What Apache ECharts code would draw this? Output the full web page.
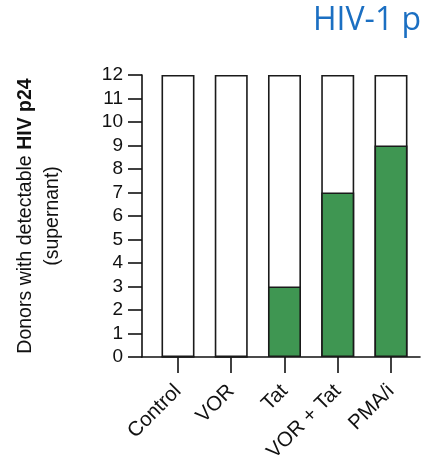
<!DOCTYPE html>
<html>
<head>
<meta charset="utf-8">
<script src="https://cdn.jsdelivr.net/npm/echarts@6/dist/echarts.min.js"></script>
<style>html,body{margin:0;padding:0;background:#fff}#c{width:423px;height:460px}</style>
</head>
<body>
<div id="c"></div>
<script>
var categories = ['Control', 'VOR', 'Tat', 'VOR + Tat', 'PMA/i'];
var totalDonors = [12, 12, 12, 12, 12];
var detectable = [0, 0, 3, 7, 9];
var yTicks = [0,1,2,3,4,5,6,7,8,9,10,11,12];

var positions = categories.map(function (c, i) { return i; });
var totalData = totalDonors.map(function (v, i) { return [i, v]; });
var detData = detectable.map(function (v, i) { return [i, v]; });

var FONT = 'Liberation Sans, Arial, sans-serif';
var chart = echarts.init(document.getElementById('c'), null, {renderer: 'canvas'});
chart.setOption({
  animation: false,
  backgroundColor: '#fff',
  title: {
    text: 'HIV-1 p',
    left: 308, top: 0,
    textStyle: {fontFamily: 'Open Sans', fontSize: 32, fontWeight: 'normal', color: '#1b6fc2'}
  },
  grid: {left: 142, right: 3, top: 75, bottom: 103, containLabel: false, outerBoundsMode: 'none'},
  xAxis: {
    type: 'value',
    min: -0.676, max: 4.545,
    axisLine: {show: true, onZero: false, lineStyle: {color: '#111', width: 1.6}},
    axisTick: {show: true, length: 16, customValues: positions, lineStyle: {color: '#111', width: 1.6}},
    axisLabel: {
      customValues: positions,
      formatter: function (v) { return categories[Math.round(v)]; },
      rotate: 45, margin: 31, fontSize: 20.5, fontFamily: FONT, color: '#111'
    },
    splitLine: {show: false}
  },
  yAxis: {
    type: 'value',
    min: yTicks[0], max: yTicks[yTicks.length - 1], interval: 1,
    axisLine: {show: true, onZero: false, lineStyle: {color: '#111', width: 1.6}},
    axisTick: {show: true, length: 14, lineStyle: {color: '#111', width: 1.6}},
    axisLabel: {margin: 19, fontSize: 19, fontFamily: FONT, color: '#111'},
    splitLine: {show: false},
    name: '{n|Donors with detectable }{b|HIV p24}\n{n|(supernant)}',
    nameLocation: 'middle',
    nameRotate: 90,
    nameGap: 76,
    nameTextStyle: {
      fontFamily: FONT, fontSize: 19.5, color: '#111', lineHeight: 27,
      rich: {
        n: {fontFamily: FONT, fontSize: 19.5, color: '#111', lineHeight: 27},
        b: {fontFamily: FONT, fontSize: 19.5, fontWeight: 'bold', color: '#111', lineHeight: 27}
      }
    }
  },
  series: [
    {
      type: 'bar', barWidth: 33, barGap: '-100%',
      data: totalData,
      itemStyle: {color: '#ffffff', borderColor: '#1a1a1a', borderWidth: 1.6}
    },
    {
      type: 'bar', barWidth: 33, barGap: '-100%',
      data: detData,
      itemStyle: {color: '#3f9652', borderColor: '#1a1a1a', borderWidth: 1.6}
    }
  ]
});
</script>
</body>
</html>
